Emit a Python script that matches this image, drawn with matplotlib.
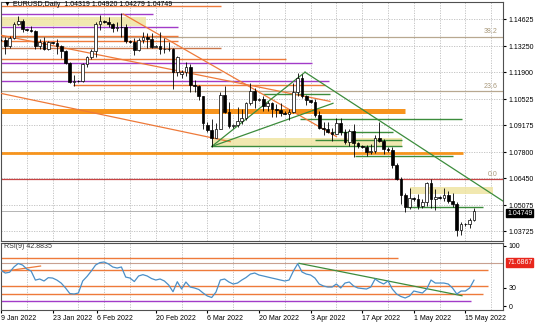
import matplotlib
matplotlib.use("Agg")
import matplotlib.pyplot as plt
import numpy as np

# ---------------- data ----------------
opens = [1.1358, 1.1356, 1.1325, 1.1366, 1.1441, 1.1456,
         1.1412, 1.1410, 1.1405, 1.1325, 1.1344, 1.1312,
         1.1345, 1.1342, 1.1325, 1.1302, 1.1240, 1.1143,
         1.1146, 1.1145, 1.1234, 1.1271, 1.1302, 1.1440,
         1.1453, 1.1448, 1.1441, 1.1417, 1.1424, 1.1425,
         1.1350, 1.1348, 1.1307, 1.1359, 1.1373, 1.1360,
         1.1322, 1.1325, 1.1310, 1.1308, 1.1308, 1.1191,
         1.1180, 1.1190, 1.1218, 1.1125, 1.1120, 1.1066,
         1.0920, 1.0895, 1.0855, 1.0900, 1.1075, 1.0985,
         1.0913, 1.0920, 1.0942, 1.0955, 1.1034, 1.1093,
         1.1050, 1.1052, 1.1017, 1.1030, 1.1000, 1.0996,
         1.0983, 1.0978, 1.0984, 1.1088, 1.1160, 1.1067,
         1.1046, 1.1040, 1.0970, 1.0905, 1.0900, 1.0882,
         1.0875, 1.0930, 1.0885, 1.0830, 1.0890, 1.0825,
         1.0810, 1.0805, 1.0780, 1.0788, 1.0852, 1.0835,
         1.0798, 1.0790, 1.0715, 1.0640, 1.0560, 1.0498,
         1.0545, 1.0540, 1.0505, 1.0525, 1.0620, 1.0540,
         1.0550, 1.0545, 1.0560, 1.0530, 1.0515, 1.0380,
         1.0410, 1.0408, 1.04319]
highs = [1.1362, 1.1370, 1.1375, 1.1449, 1.1482, 1.1465,
         1.1415, 1.1430, 1.1410, 1.1363, 1.1370, 1.1349,
         1.1347, 1.1360, 1.1330, 1.1306, 1.1245, 1.1175,
         1.1150, 1.1240, 1.1275, 1.1312, 1.1450, 1.1484,
         1.1457, 1.1474, 1.1443, 1.1448, 1.1495, 1.1440,
         1.1355, 1.1367, 1.1367, 1.1395, 1.1390, 1.1394,
         1.1330, 1.1395, 1.1365, 1.1348, 1.1315, 1.1275,
         1.1200, 1.1245, 1.1234, 1.1150, 1.1125, 1.1070,
         1.0935, 1.0950, 1.0930, 1.1090, 1.1121, 1.1040,
         1.0925, 1.1010, 1.1000, 1.1040, 1.1137, 1.1110,
         1.1058, 1.1070, 1.1045, 1.1040, 1.1025, 1.1035,
         1.0990, 1.1000, 1.1137, 1.1185, 1.1180, 1.1075,
         1.1050, 1.1053, 1.0990, 1.0936, 1.0935, 1.0905,
         1.0955, 1.0955, 1.0900, 1.0900, 1.0923, 1.0830,
         1.0815, 1.0815, 1.0820, 1.0870, 1.0936, 1.0850,
         1.0805, 1.0805, 1.0725, 1.0650, 1.0570, 1.0595,
         1.0550, 1.0565, 1.0540, 1.0625, 1.0641, 1.0590,
         1.0555, 1.0595, 1.0580, 1.0570, 1.0525, 1.0420,
         1.0415, 1.0440, 1.04920]
lows = [1.1352, 1.1285, 1.1315, 1.1360, 1.1433, 1.1398,
        1.1405, 1.1395, 1.1310, 1.1312, 1.1303, 1.1305,
        1.1338, 1.1285, 1.1265, 1.1235, 1.1135, 1.1121,
        1.1140, 1.1140, 1.1217, 1.1260, 1.1270, 1.1410,
        1.1445, 1.1425, 1.1396, 1.1403, 1.1374, 1.1340,
        1.1340, 1.1280, 1.1300, 1.1343, 1.1314, 1.1315,
        1.1318, 1.1285, 1.1290, 1.1300, 1.1106, 1.1170,
        1.1160, 1.1170, 1.1090, 1.1088, 1.1050, 1.0900,
        1.0885, 1.0806, 1.0852, 1.0900, 1.0980, 1.0905,
        1.0905, 1.0910, 1.0925, 1.0945, 1.1020, 1.1005,
        1.1045, 1.0990, 1.0990, 1.0960, 1.0962, 1.0965,
        1.0975, 1.0945, 1.0980, 1.1070, 1.1060, 1.1022,
        1.1035, 1.0960, 1.0900, 1.0870, 1.0880, 1.0837,
        1.0875, 1.0870, 1.0820, 1.0810, 1.0757, 1.0800,
        1.0800, 1.0760, 1.0770, 1.0775, 1.0830, 1.0770,
        1.0780, 1.0700, 1.0635, 1.0515, 1.0471, 1.0490,
        1.0530, 1.0490, 1.0495, 1.0505, 1.0493, 1.0483,
        1.0540, 1.0530, 1.0520, 1.0500, 1.0350, 1.0355,
        1.0400, 1.0390, 1.04279]
closes = [1.1356, 1.1325, 1.1366, 1.1441, 1.1456, 1.1412,
          1.1410, 1.1405, 1.1325, 1.1344, 1.1312, 1.1345,
          1.1342, 1.1325, 1.1302, 1.1240, 1.1143, 1.1146,
          1.1145, 1.1234, 1.1271, 1.1302, 1.1440, 1.1453,
          1.1448, 1.1441, 1.1417, 1.1424, 1.1425, 1.1350,
          1.1348, 1.1307, 1.1359, 1.1373, 1.1360, 1.1322,
          1.1325, 1.1310, 1.1308, 1.1308, 1.1191, 1.1271,
          1.1190, 1.1218, 1.1125, 1.1120, 1.1066, 1.0930,
          1.0895, 1.0855, 1.0900, 1.1075, 1.0985, 1.0913,
          1.0920, 1.0942, 1.0955, 1.1034, 1.1093, 1.1050,
          1.1052, 1.1017, 1.1030, 1.1000, 1.0996, 1.0983,
          1.0978, 1.0984, 1.1088, 1.1160, 1.1067, 1.1046,
          1.1040, 1.0970, 1.0905, 1.0900, 1.0882, 1.0875,
          1.0930, 1.0885, 1.0830, 1.0890, 1.0825, 1.0810,
          1.0805, 1.0780, 1.0788, 1.0852, 1.0835, 1.0798,
          1.0790, 1.0715, 1.0640, 1.0560, 1.0498, 1.0545,
          1.0540, 1.0505, 1.0525, 1.0620, 1.0540, 1.0550,
          1.0545, 1.0560, 1.0530, 1.0515, 1.0380, 1.0410,
          1.0408, 1.0432, 1.04749]
rsi = [59, 54.7, 56, 64.7, 70.5, 68, 61.4, 58, 43, 44.8, 41.5, 47,
       46.4, 43, 38, 30, 20.7, 19.9, 21.6, 41.5, 49, 58, 68, 72,
       73, 69.7, 64.7, 63, 64.7, 48, 46.4, 40.6, 49.8, 52, 49.8, 45.6,
       43.1, 44.8, 41.5, 34.8, 23.7, 40.3, 28.2, 39.8, 31.5, 29.9, 27.4, 21.6,
       16.6, 14.1, 23.2, 43.1, 44.8, 39.8, 36.5, 38.1, 43.1, 47.3, 53, 54.7,
       51.4, 49.8, 48.1, 46.4, 44.8, 43.1, 41.5, 43.1, 58, 70.1, 56.4, 53,
       51.4, 46.4, 36.5, 33.2, 31.5, 31.5, 36.5, 29.9, 38.1, 39.8, 33.2, 29.9,
       29, 28.2, 31.5, 44.8, 39.8, 36.5, 41.5, 28.2, 19.9, 15.8, 13.3, 16.6,
       24.9, 23.2, 21.6, 28.2, 43.1, 38.1, 38.1, 38.1, 36.5, 29.9, 19.9, 24.9,
       24.9, 29.9, 42.88]

price_ticks = [1.14625, 1.13250, 1.11900, 1.10525, 1.09175, 1.07800, 1.06450, 1.05075, 1.03725]
date_pos = [0, 12, 22.3, 36, 48, 60, 72, 84, 96, 108]
date_labels = ["9 Jan 2022", "23 Jan 2022", "6 Feb 2022", "20 Feb 2022", "6 Mar 2022",
               "20 Mar 2022", "3 Apr 2022", "17 Apr 2022", "1 May 2022", "15 May 2022"]
title_text = "\u25BC EURUSD,Daily  1.04319 1.04920 1.04279 1.04749"

# horizontal levels: (price, start bar, end bar, kind)
h_levels = [
    (1.1531, 0, 51.2, "orange"),
    (1.1490, 0, 35.3, "purple"),
    (1.1424, 0, 41.2, "purple"),
    (1.1376, 0, 41.2, "orange"),
    (1.1352, 0, 41.2, "orange"),
    (1.1313, 0, 51.2, "brown"),
    (1.1261, 0, 66.3, "orange"),
    (1.1238, 0, 72.3, "purple"),
    (1.1192, 0, 51.2, "brown"),
    (1.1145, 0, 76.3, "purple"),
    (1.1123, 16.7, 75.3, "orange"),
    (1.0948, 69.5, 107.2, "green"),
    (1.1081, 61.0, 76.5, "green"),
    (1.0881, 77.2, 91.2, "green"),
    (1.0840, 73.0, 93.3, "green"),
    (1.0809, 49.0, 93.3, "green"),
    (1.0762, 82.3, 105.1, "green"),
    (1.0499, 94.4, 112.1, "green"),
]
thick_levels = [(1.0992, 0, 94.0, 3.6), (1.0776, 0, 107.4, 2.0)]
fib_levels = [(1.1373, "38.2"), (1.1094, "23.6"), (1.0641, "0.0")]
zones = [(1.1430, 1.1473, 0, 33.7), (1.0810, 1.0855, 49.0, 93.3), (1.0566, 1.0602, 95.1, 114.4)]
# diagonal lines: (bar0, price0, bar1, price1, kind)
diag_lines = [
    (28.4, 1.1490, 78.0, 1.0860, "orange"),
    (0.0, 1.1381, 76.5, 1.1041, "orange"),
    (0.0, 1.1082, 53.3, 1.0834, "orange"),
    (49.0, 1.0809, 70.7, 1.1191, "green"),
    (49.0, 1.0809, 77.2, 1.1031, "green"),
    (70.7, 1.1191, 116.7, 1.0529, "green"),
]
rsi_levels = [(80.0, 92.3, "orange"), (60.2, 113.3, "orange"), (33.2, 113.3, "orange"),
              (19.4, 112.1, "orange"), (8.8, 109.3, "purple")]
rsi_diag = [(0.0, 56.9, 9.2, 66.3, "orange"), (69.3, 70.8, 107.2, 17.1, "green")]
rsi_mark = 71.6867

colors = {"orange": "#EE7A3A", "brown": "#C8784E", "purple": "#A23BC8", "green": "#3C8C3C"}

# ---------------- figure ----------------
W, H = 536, 326
plt.rcParams["font.family"] = ["Liberation Sans", "DejaVu Sans"]
fig = plt.figure(figsize=(W / 100, H / 100), dpi=100)
fig.patch.set_facecolor("white")
FS = 5.0

ax = fig.add_axes([1 / W, 1 - 241 / H, 502 / W, 239 / H])
ax2 = fig.add_axes([1 / W, 1 - 310 / H, 502 / W, 67 / H])
XL = (0, 502 / 4.3)
ax.set_xlim(*XL)
ax.set_ylim(1.03231, 1.15518)
ax2.set_xlim(*XL)
ax2.set_ylim(-6.6, 104.5)

grid_x = np.arange(0, 117, 6)
for a in (ax, ax2):
    a.set_xticks(grid_x, minor=True)
    a.grid(which="minor", axis="x", color="#BDBDBD", linestyle=(0, (1.5, 1.5)), linewidth=0.6)
    a.tick_params(which="minor", length=0)
    for s in a.spines.values():
        s.set_color("#505050")
        s.set_linewidth(0.8)
    a.set_axisbelow(True)

ax.yaxis.tick_right()
ax.set_yticks(price_ticks)
ax.set_yticklabels([f"{v:.5f}" for v in price_ticks], fontsize=FS)
ax.grid(which="major", axis="y", color="#BDBDBD", linestyle=(0, (1.5, 1.5)), linewidth=0.6)
ax.tick_params(axis="y", length=2, pad=2, colors="black", labelsize=FS)
ax.set_xticks([])

# zones
for lo, hi, b0, b1 in zones:
    ax.fill_between([b0, b1], lo, hi, color="#EFE5A2", alpha=0.85, linewidth=0, zorder=1)

# thick orange levels
for p, b0, b1, lw in thick_levels:
    ax.hlines(p, b0, b1, color="#F7941D", linewidth=lw, zorder=2)

# fib levels
for p, lab in fib_levels:
    c = "#C84545" if lab == "0.0" else "#B8A890"
    ax.axhline(p, color=c, linewidth=0.9, zorder=2)
    ax.text(XL[1] - 1.2, p + 0.0007, lab, fontsize=FS, color="#A8987A", ha="right", va="bottom", zorder=6)

# horizontal levels
for p, b0, b1, kind in h_levels:
    ax.hlines(p, b0, b1, color=colors[kind], linewidth=1.0, zorder=2)

# diagonal lines
for b0, p0, b1, p1, kind in diag_lines:
    ax.plot([b0, b1], [p0, p1], color=colors[kind], linewidth=0.9, zorder=3)

# current price line
ax.axhline(closes[-1], color="#A8A8A8", linewidth=0.6, zorder=2)

# candles
idx = np.arange(len(closes))
o = np.array(opens); c = np.array(closes); h = np.array(highs); l = np.array(lows)
ax.vlines(idx, l, h, color="black", linewidth=0.6, zorder=4)
up = c >= o
bw = 0.62
bh = np.maximum(np.abs(c - o), 0.00018)
ax.bar(idx[up], bh[up], bottom=np.minimum(o, c)[up], width=bw, color="white",
       edgecolor="black", linewidth=0.5, zorder=5)
ax.bar(idx[~up], bh[~up], bottom=np.minimum(o, c)[~up], width=bw, color="black",
       edgecolor="black", linewidth=0.5, zorder=5)

ax.text(0.6, 1.1538, title_text, fontsize=FS, color="black", va="center", ha="left", zorder=7)

# last price label (placed just under the 1.05075 tick label)
ax.annotate("1.04749", xy=(1.0, closes[-1]), xycoords=("axes fraction", "data"),
            xytext=(3, -1.2), textcoords="offset points", fontsize=FS, color="white",
            va="center", ha="left",
            bbox=dict(boxstyle="square,pad=0.12", fc="black", ec="black"),
            annotation_clip=False, zorder=8)

# ---------------- RSI panel ----------------
ax2.yaxis.tick_right()
ax2.set_yticks([0, 30, 100])
ax2.set_yticklabels(["0", "30", "100"], fontsize=FS)
ax2.tick_params(axis="y", length=2, pad=2, labelsize=FS)
for v, b1, kind in rsi_levels:
    ax2.hlines(v, 0, b1, color=colors[kind], linewidth=1.0, zorder=2)
ax2.axhline(rsi_mark, color="#C8A090", linewidth=0.8, zorder=2)
for b0, v0, b1, v1, kind in rsi_diag:
    ax2.plot([b0, b1], [v0, v1], color=colors[kind], linewidth=0.9, zorder=3)
ax2.plot(idx, rsi, color="#4A8FC8", linewidth=0.9, zorder=4)
ax2.text(0.8, 98, "RSI(9) 42.8835", fontsize=FS, color="#333333", va="center", ha="left")
ax2.annotate("71.6867", xy=(1.0, rsi_mark), xycoords=("axes fraction", "data"),
             xytext=(3, 0), textcoords="offset points", fontsize=FS, color="white",
             va="center", ha="left",
             bbox=dict(boxstyle="square,pad=0.12", fc="#E8261C", ec="#E8261C"),
             annotation_clip=False, zorder=8)

ax2.set_xticks(date_pos)
ax2.set_xticklabels(date_labels, fontsize=FS)
for t in ax2.get_xticklabels():
    t.set_ha("left")
ax2.tick_params(axis="x", length=2, pad=1.5, labelsize=FS)

fig.savefig("out.png", dpi=100, facecolor="white")
